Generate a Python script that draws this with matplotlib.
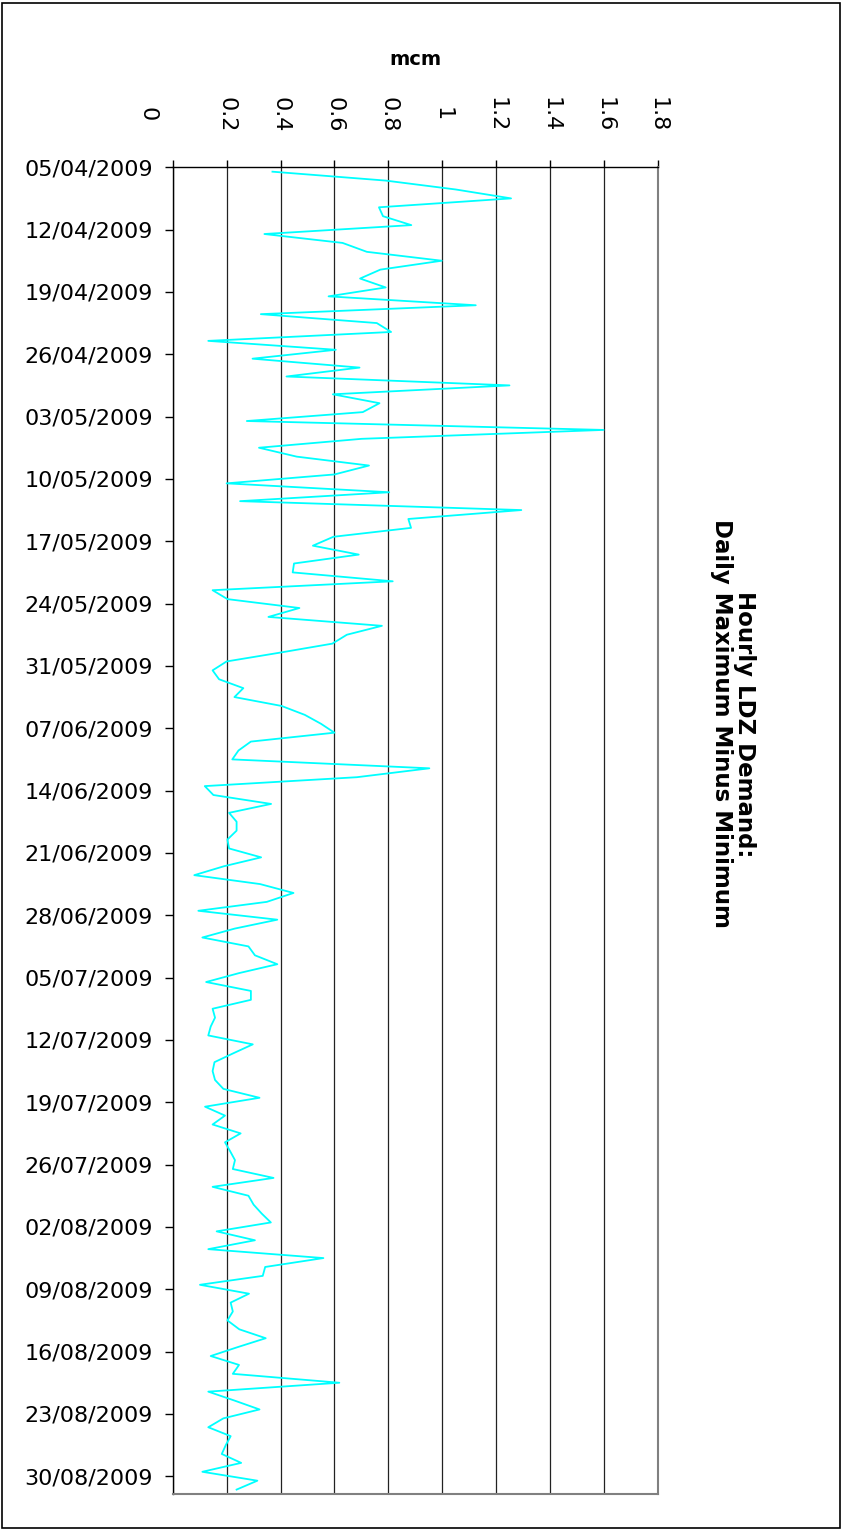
import numpy as np
import matplotlib
matplotlib.use("Agg")
import matplotlib.pyplot as plt
import matplotlib.dates as mdates
import matplotlib.transforms as mtransforms
from matplotlib.patches import Rectangle

# Daily max-minus-min of hourly LDZ demand (mcm), 05/04/2009 .. 31/08/2009
start = np.datetime64("2009-04-05")
end = np.datetime64("2009-09-01")
spread = [
    0.37, 0.79, 1.05, 1.255, 0.765, 0.78, 0.885, 0.34, 0.63, 0.72,
    0.998, 0.77, 0.695, 0.79, 0.578, 1.124, 0.327, 0.757, 0.81, 0.132,
    0.605, 0.296, 0.693, 0.422, 1.249, 0.594, 0.767, 0.705, 0.275, 1.598,
    0.701, 0.32, 0.46, 0.728, 0.60, 0.20, 0.803, 0.25, 1.293, 0.874,
    0.884, 0.596, 0.52, 0.69, 0.45, 0.445, 0.816, 0.148, 0.203, 0.47,
    0.355, 0.776, 0.646, 0.592, 0.40, 0.20, 0.148, 0.172, 0.262, 0.229,
    0.404, 0.49, 0.55, 0.60, 0.29, 0.244, 0.221, 0.952, 0.683, 0.119,
    0.151, 0.365, 0.209, 0.237, 0.237, 0.203, 0.209, 0.328, 0.19, 0.08,
    0.324, 0.448, 0.349, 0.095, 0.388, 0.23, 0.11, 0.281, 0.305, 0.388,
    0.246, 0.124, 0.29, 0.29, 0.148, 0.157, 0.141, 0.132, 0.297, 0.225,
    0.155, 0.148, 0.157, 0.188, 0.322, 0.12, 0.194, 0.148, 0.252, 0.194,
    0.213, 0.231, 0.223, 0.374, 0.148, 0.281, 0.30, 0.33, 0.364, 0.163,
    0.305, 0.132, 0.559, 0.343, 0.334, 0.101, 0.283, 0.215, 0.223, 0.203,
    0.247, 0.345, 0.241, 0.141, 0.246, 0.223, 0.618, 0.132, 0.229, 0.322,
    0.188, 0.132, 0.215, 0.197, 0.182, 0.254, 0.11, 0.314, 0.237,
]
days = start + np.arange(len(spread))
value_ticks = [0, 0.2, 0.4, 0.6, 0.8, 1, 1.2, 1.4, 1.6, 1.8]
value_labels = ["0", "0.2", "0.4", "0.6", "0.8", "1", "1.2", "1.4", "1.6", "1.8"]

plt.rcParams["font.family"] = ["DejaVu Sans"]


def to_num(d):
    return mdates.date2num(np.asarray(d).astype("datetime64[s]").astype(object))


fig = plt.figure(figsize=(8.42, 15.3), dpi=100)
fig.patches.append(Rectangle((0.002, 0.001), 0.996, 0.997, transform=fig.transFigure,
                             fill=False, edgecolor="black", lw=1.2))

ax = fig.add_axes([0.2051, 0.0235, 0.5764, 0.8672])

# each day sits in the middle of its own band
ynum = to_num(days) + 0.5
ax.plot(spread, ynum, color="#00FFFF", lw=1.3, zorder=3)

y0 = to_num(start)
y1 = to_num(end)
ax.set_ylim(y1, y0)
ax.set_xlim(0, 1.8)

ax.set_yticks(np.arange(y0, y1 - 1, 7))
ax.yaxis.set_major_formatter(mdates.DateFormatter("%d/%m/%Y"))

ax.xaxis.tick_top()
ax.set_xticks(value_ticks)
ax.set_xticklabels(value_labels, rotation=-90, va="center", ha="center", fontsize=16)
ax.tick_params(axis="x", direction="out", length=5, width=1, pad=33, color="black")
ax.tick_params(axis="y", direction="out", length=6, width=1, pad=8, labelsize=16,
               color="black")

# the zero label sits a little left of its gridline
zero = ax.get_xticklabels()[0]
zero.set_transform(zero.get_transform()
                   + mtransforms.ScaledTranslation(-25 / 100, 0, fig.dpi_scale_trans))

ax.grid(axis="x", color="#222222", lw=0.9)
ax.set_axisbelow(True)
for side in ("bottom", "right"):
    ax.spines[side].set_color("#808080")
    ax.spines[side].set_linewidth(1.5)
for side in ("top", "left"):
    ax.spines[side].set_color("black")
    ax.spines[side].set_linewidth(1.0)

fig.text(0.493, 0.961, "mcm", ha="center", va="center", fontsize=14, fontweight="bold")
fig.text(0.870, 0.527, "Hourly LDZ Demand:\nDaily Maximum Minus Minimum",
         rotation=-90, ha="center", va="center", fontsize=16.5, fontweight="bold",
         multialignment="center", linespacing=1.0)

fig.savefig("out.png", dpi=100)
